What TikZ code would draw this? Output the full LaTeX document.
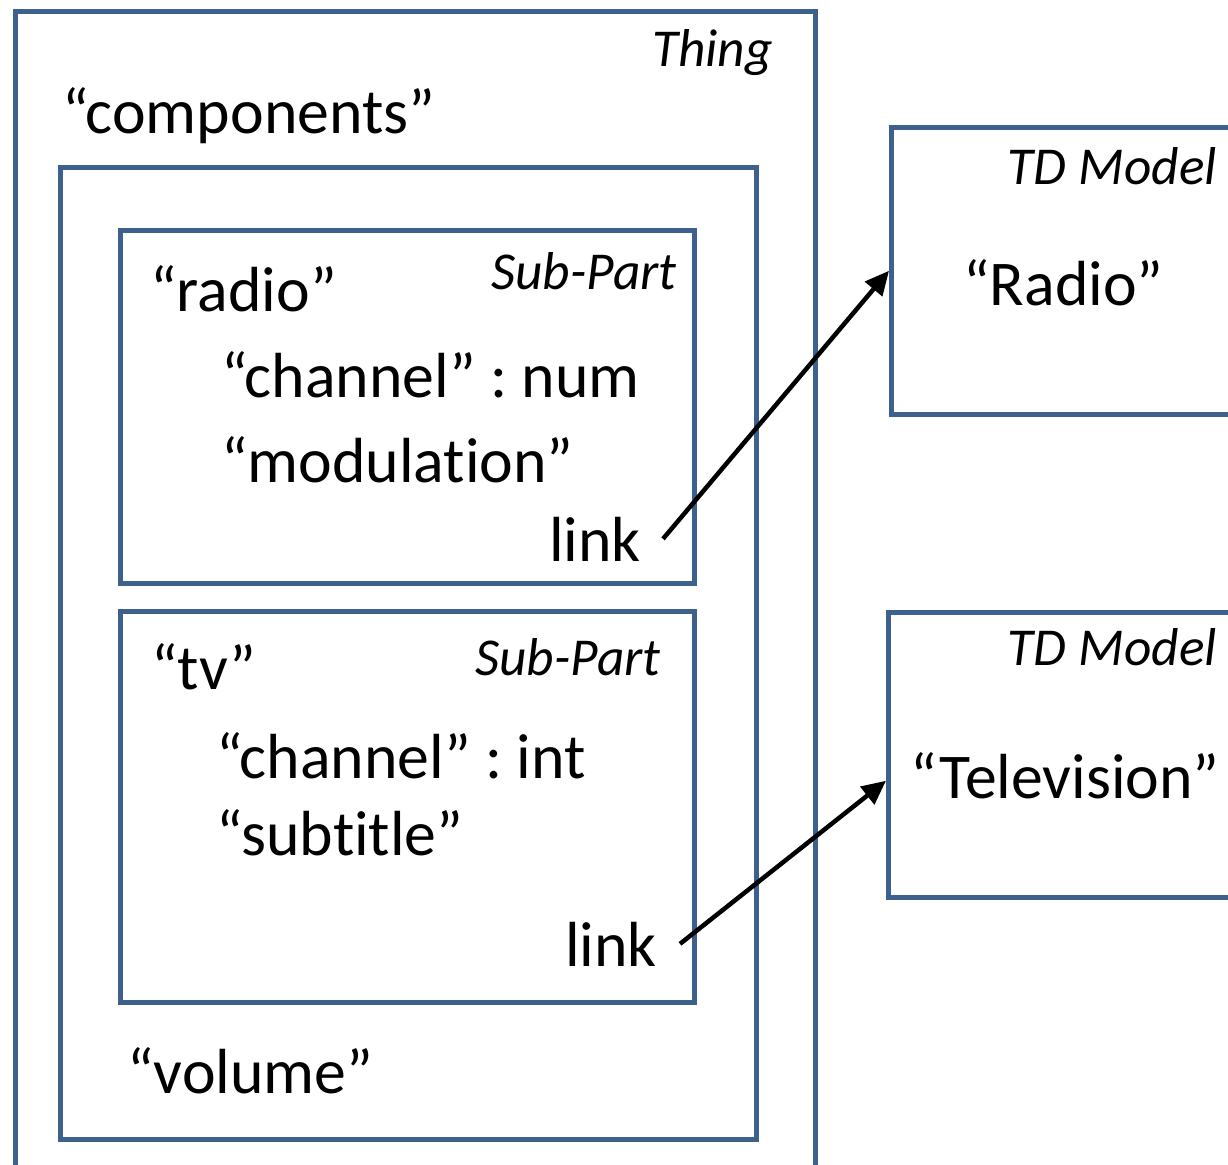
\documentclass[tikz,border=0pt]{standalone}
\usepackage{fontspec}
\setmainfont[Ligatures=NoCommon]{Carlito}
\usetikzlibrary{arrows.meta,positioning,calc}
\definecolor{boxBlue}{RGB}{62,96,140}
\frenchspacing

\begin{document}
\begin{tikzpicture}[x=1bp, y=-1bp,
  frame/.style={rectangle, draw=boxBlue, line width=4.5bp, inner sep=0pt,
                anchor=north west},
  kind/.style={font=\fontsize{53.5}{60}\selectfont\itshape, inner sep=0pt,
               anchor=base east},
  field/.style={font=\fontsize{64}{72}\selectfont, inner sep=0pt,
                anchor=base west},
  arr/.style={-{Triangle[length=24bp,width=22bp]}, line width=4.5bp, black},
]

% page size, in pixels of the reference
\useasboundingbox (0,0) rectangle (1228,1165);
\clip (0,0) rectangle (1228,1165);

% ─── Thing with its components ─────────────────────────────────
\node[frame, minimum width=800bp, minimum height=1220bp] (thing) at (13,9) {};
\node[kind] (thingkind) at (773,66) {Thing};
\node[field] (components) at (62,133) {“components”};

\node[frame, minimum width=696bp, minimum height=972bp] (comp) at (58,165) {};
\node[field] (volume) at (127,1093) {“volume”};

% ─── Sub-Part: radio ───────────────────────────────────────────
\node[frame, minimum width=574bp, minimum height=353bp] (radio) at (118,228) {};
\node[kind] (radiokind) at (677,289) {Sub-Part};
\node[field] (radioname) at (150,311) {“radio”};
\node[field] (radioch) at (221,397) {“channel” : num};
\node[field] (radiomod) at (221,482) {“modulation”};
\node[field, anchor=base east] (link1) at (641,561) {link};

% ─── Sub-Part: tv ──────────────────────────────────────────────
\node[frame, minimum width=574bp, minimum height=391bp] (tv) at (118,609) {};
\node[kind] (tvkind) at (661,675) {Sub-Part};
\node[field] (tvname) at (151,689) {“tv”};
\node[field] (tvch) at (216,778) {“channel” : int};
\node[field] (tvsub) at (216,855) {“subtitle”};
\node[field, anchor=base east] (link2) at (657,966) {link};

% ─── TD Models ─────────────────────────────────────────────────
\node[frame, minimum width=400bp, minimum height=287bp] (tdradio) at (889,125) {};
\node[kind] (tdradiokind) at (1217,184) {TD Model};
\node[field] (tdradioname) at (963,305) {“Radio”};

\node[frame, minimum width=400bp, minimum height=285bp] (tdtv) at (886,610) {};
\node[kind] (tdtvkind) at (1217,665) {TD Model};
\node[field] (tdtvname) at (910,798) {“Television”};

% ─── links ─────────────────────────────────────────────────────
\draw[arr] (link1.east) ++(22,0) -- (tdradio.west);
\draw[arr] (link2.east) ++(23,0) -- ($(tdtv.west)+(0,26)$);

\end{tikzpicture}
\end{document}
